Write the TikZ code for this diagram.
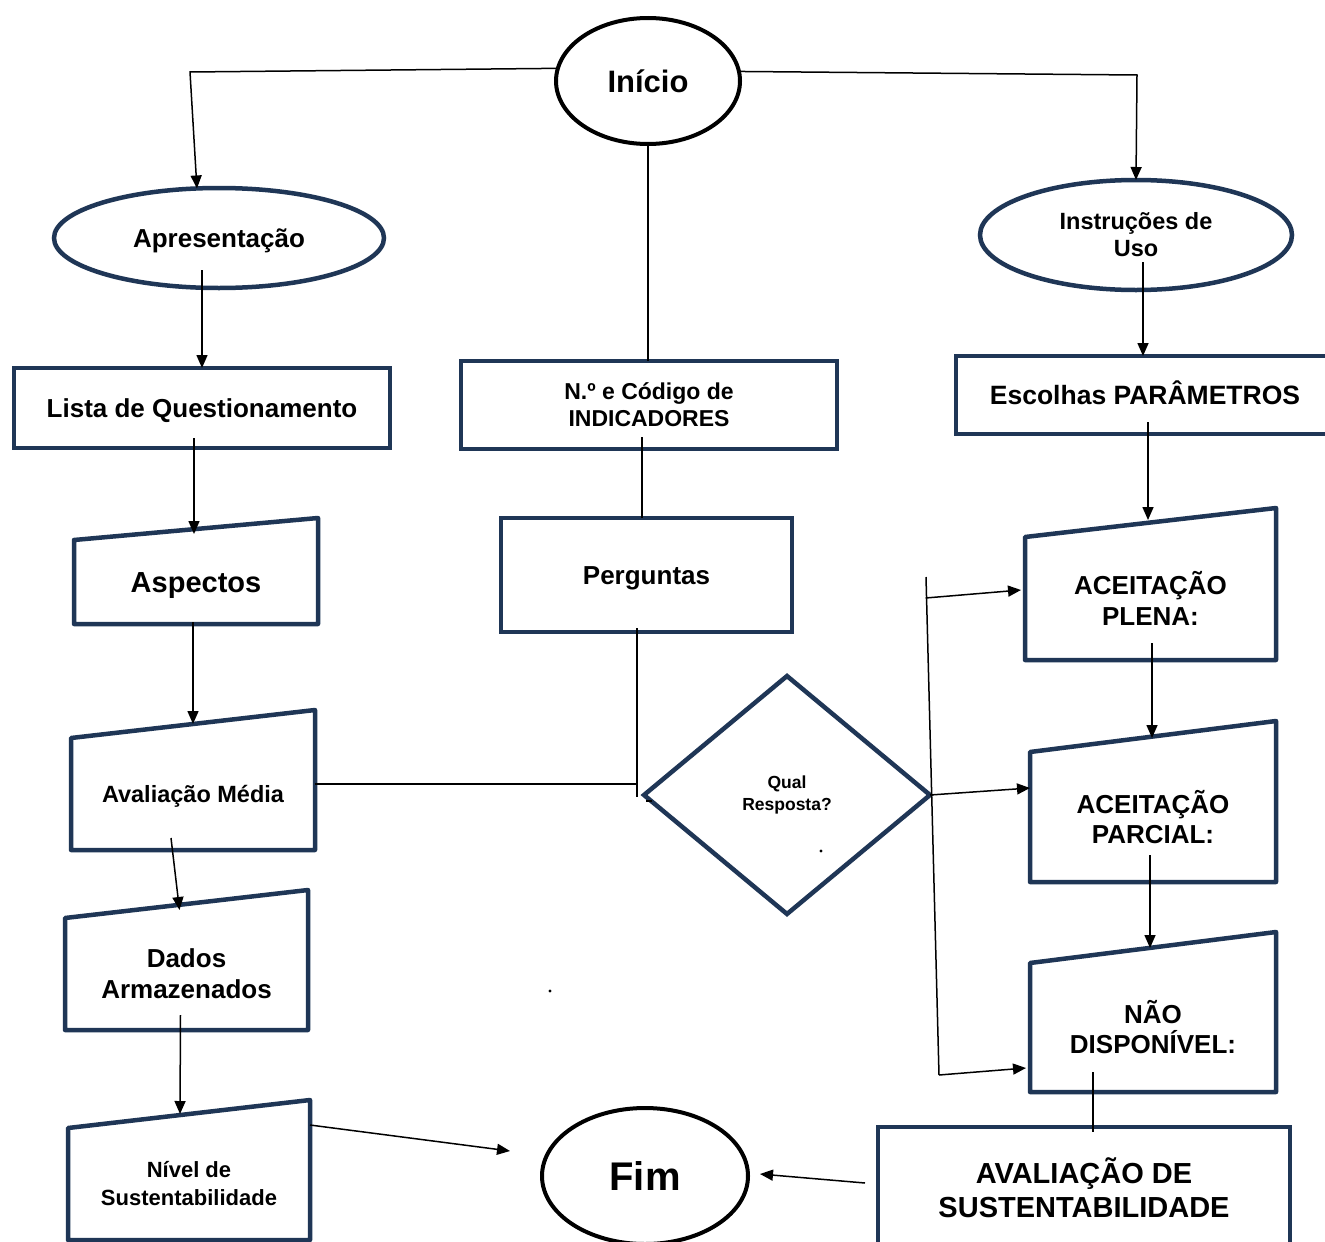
\documentclass[tikz,border=0pt]{standalone}
\usepackage{fontspec}
\setmainfont{Liberation Sans}
\usetikzlibrary{shapes.geometric,arrows.meta,calc}
\definecolor{navy}{RGB}{31,54,86}
\newcommand{\setfs}[2]{\fontsize{#1}{#2}\selectfont}
\begin{document}
\begin{tikzpicture}[x=1pt,y=-1pt,
  conn/.style={line width=1.5pt, draw=black},
  arr/.style={conn, -{Triangle[length=13pt,width=11pt]}},
  box/.style={rectangle, draw=navy, line width=4.5pt, inner sep=0pt, outer sep=0pt, align=center},
  oval/.style={ellipse, draw=navy, line width=4.5pt, inner sep=0pt, outer sep=0pt, align=center},
  termin/.style={oval, draw=black, line width=4pt},
  capc/.style={text height=#1, text depth=0pt},
  manual/.style={rectangle, inner sep=0pt, outer sep=0pt, align=center,
     append after command={\pgfextra{\draw[draw=navy,line width=4.5pt,line join=round]
       (\tikzlastnode.south west) -- (\tikzlastnode.south east) -- ([yshift=#1]\tikzlastnode.north east)
       -- (\tikzlastnode.north west) -- cycle;}}},
]
\fill[white] (0,0) rectangle (1325,1242);
\useasboundingbox (0,0) rectangle (1325,1242);

% terminals and ellipses
\node[termin, capc=22.2pt, minimum width=184pt, minimum height=126pt, font=\bfseries\setfs{31}{36}] (ini) at (648,81) {Início};
\node[oval, capc=18.6pt, minimum width=330pt, minimum height=100pt, font=\bfseries\setfs{26}{31}] (apr) at (219,238) {Apresentação};
\node[oval, minimum width=312pt, minimum height=110pt, font=\bfseries\setfs{23.5}{27}] (ins) at (1136,235) {Instruções de\\Uso};
\node[termin, capc=28.6pt, minimum width=206pt, minimum height=136pt, font=\bfseries\setfs{40}{46}] (fim) at (645,1176) {Fim};

% rectangles
\node[box, capc=18.6pt, minimum width=376pt, minimum height=80pt, font=\bfseries\setfs{26}{31}] (lis) at (202,408) {Lista de Questionamento};
\node[box, minimum width=376pt, minimum height=88pt, font=\bfseries\setfs{23}{27}] (ind) at (649,405) {N.º e Código de\\INDICADORES};
\node[box, capc=18.6pt, minimum width=291pt, minimum height=114pt, font=\bfseries\setfs{26}{31}] (per) at (646.5,575) {Perguntas};
\node[box, capc=19pt, minimum width=378pt, minimum height=78pt, font=\bfseries\setfs{26.5}{31}] (esc) at (1145,395) {Escolhas PARÂMETROS};
\node[box, minimum width=412pt, minimum height=122pt, font=\bfseries\setfs{29}{34}] (ava) at (1084,1188) {AVALIAÇÃO DE\\SUSTENTABILIDADE};

% manual-input shapes
\node[manual=22pt, capc=20.8pt, minimum width=244pt, minimum height=84pt, font=\bfseries\setfs{29}{34}] (asp) at (196,582) {Aspectos};
\node[manual=28pt, capc=16.8pt, minimum width=244pt, minimum height=112pt, font=\bfseries\setfs{23.5}{28}] (avm) at (193,794) {Avaliação Média};
\node[manual=28pt, minimum width=243pt, minimum height=112pt, font=\bfseries\setfs{26}{31}] (dad) at (186.5,974) {Dados\\Armazenados};
\node[manual=28pt, minimum width=242pt, minimum height=112pt, font=\bfseries\setfs{22}{28}] (niv) at (189,1184) {Nível de\\Sustentabilidade};
\node[manual=29pt, minimum width=251pt, minimum height=123pt, font=\bfseries\setfs{26}{31}] (pl) at (1150.5,598.5) {ACEITAÇÃO\\PLENA:};
\node[manual=31pt, minimum width=246pt, minimum height=130pt, font=\bfseries\setfs{26}{30}] (pc) at (1153,817) {ACEITAÇÃO\\PARCIAL:};
\node[manual=31pt, minimum width=246pt, minimum height=129pt, font=\bfseries\setfs{26}{30}] (nd) at (1153,1027.5) {NÃO\\DISPONÍVEL:};

% decision
\node[diamond, draw=navy, line width=4.5pt, inner sep=0pt, outer sep=0pt, aspect=1.2,
      minimum width=286pt, minimum height=238pt, align=center, font=\bfseries\setfs{17.5}{22}] (dia) at (787,795) {Qual\\Resposta?};

% connectors from Início
\coordinate (cl) at (190,72);
\coordinate (cr) at (1137,75);
\draw[arr] (ini.172) -- (cl) -- (apr.114);
\draw[arr] (ini.6) -- (cr) -- (ins.north);
\draw[conn] (ini.south) -- (ind.north -| ini.south);

% left column
\draw[arr] ([yshift=18pt]apr.south -| lis.north) -- (lis.north);
\draw[arr] ([xshift=-8pt,yshift=10pt]lis.south) -- ([xshift=-2pt,yshift=6pt]asp.north);
\draw[arr] ([xshift=-3pt,yshift=2pt]asp.south) -- ([yshift=14pt]avm.north);
\draw[arr] ([xshift=-22pt,yshift=12pt]avm.south) -- ([xshift=-7pt,yshift=8pt]dad.north);
\draw[arr] ([xshift=-6pt,yshift=15pt]dad.south) -- ([xshift=-9pt,yshift=14pt]niv.north);
\draw[arr] ([yshift=59pt]niv.east) -- ([xshift=-32pt,yshift=25pt]fim.west);

% middle column
\draw[conn] ([xshift=-7pt,yshift=12pt]ind.south) -- ([xshift=-4.5pt]per.north);
\coordinate (jh) at (638,784);
\coordinate (jv) at (637,797);
\draw[conn] ([yshift=10pt]avm.east) -- (jh);
\draw[conn] ([xshift=-9.5pt,yshift=4pt]per.south) -- (jv);
\draw[conn] (646,801) -- (652,801);

% right column
\draw[arr] ([xshift=7pt,yshift=-27pt]ins.center) -- ([xshift=-2pt]esc.north);
\draw[arr] ([xshift=3pt,yshift=12pt]esc.south) -- ([xshift=-2.5pt,yshift=17pt]pl.north);
\draw[arr] ([xshift=1.5pt,yshift=17pt]pl.south) -- ([xshift=-1pt,yshift=14pt]pc.north);
\draw[arr] ([xshift=-3pt,yshift=27pt]pc.south) -- ([xshift=-3pt,yshift=15pt]nd.north);
\draw[conn] ([xshift=-60pt,yshift=20pt]nd.south) -- ([xshift=9pt,yshift=-5pt]ava.north);
\draw[arr] ([xshift=-13pt,yshift=5pt]ava.west) -- ([xshift=12pt,yshift=2pt]fim.east);

% answer bracket
\coordinate (bt) at (926,577);
\coordinate (bb) at (939,1075);
\coordinate (b1) at (925.6,598);
\draw[conn] (bt) -- (bb);
\draw[arr] (b1) -- ([xshift=-4pt,yshift=8.5pt]pl.west);
\draw[arr] (dia.east) -- ([yshift=29pt]pc.west);
\draw[arr] (bb) -- ([xshift=-4pt,yshift=-40.5pt]nd.west);

% stray dots
\fill (821,851) circle (1.6pt);
\fill (550,991) circle (1.6pt);
\end{tikzpicture}
\end{document}
